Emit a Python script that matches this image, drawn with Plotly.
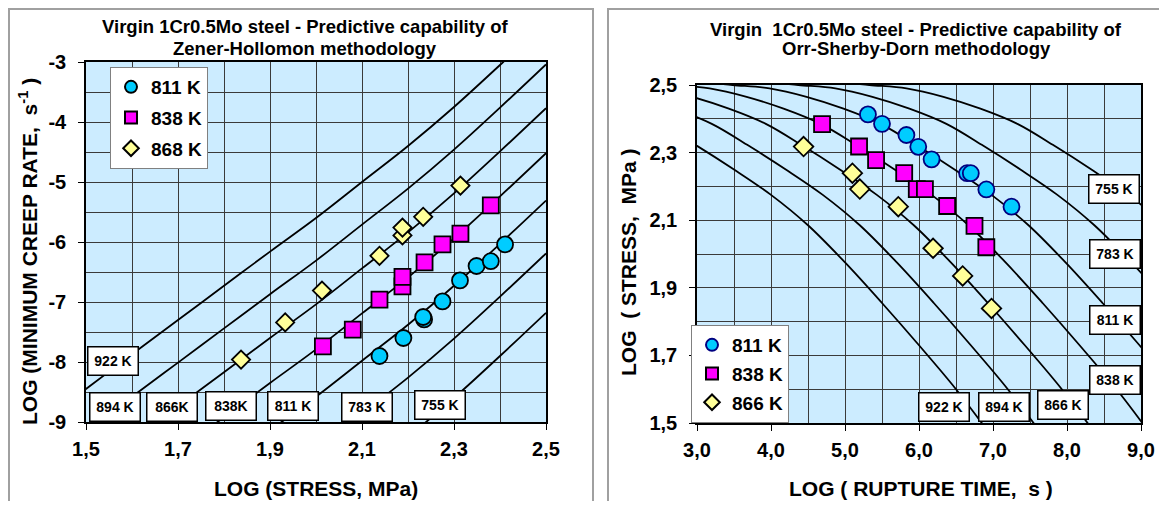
import plotly.graph_objects as go

# page body has an 8px margin: figure is drawn from (8, 8)
OFF = 8
W, H = 1167 - 2 * OFF, 509 - 2 * OFF

def PX(x):
    return (x - OFF) / W

def PY(y):
    return 1 - (y - OFF) / H

# ---------------- Left chart data (Zener-Hollomon) ----------------
zh_stress = [1.4, 1.5, 1.6, 1.7, 1.8, 1.9, 2.0, 2.1, 2.2, 2.3, 2.4, 2.5]
zh_curves = {
    "922 K": [-9.02, -8.45, -7.87, -7.30, -6.73, -6.16, -5.60, -5.00, -4.40, -3.75, -3.05, -2.33],
    "894 K": [-9.73, -9.16, -8.58, -8.01, -7.44, -6.87, -6.31, -5.71, -5.11, -4.46, -3.76, -3.04],
    "866K": [-10.46, -9.89, -9.31, -8.74, -8.17, -7.60, -7.04, -6.44, -5.84, -5.19, -4.49, -3.77],
    "838K": [-11.21, -10.64, -10.06, -9.49, -8.92, -8.35, -7.79, -7.19, -6.59, -5.94, -5.24, -4.52],
    "811 K": [-12.00, -11.43, -10.85, -10.28, -9.71, -9.14, -8.58, -7.98, -7.38, -6.73, -6.03, -5.31],
    "783 K": [-12.88, -12.31, -11.73, -11.16, -10.59, -10.02, -9.46, -8.86, -8.26, -7.61, -6.91, -6.19],
    "755 K": [-13.87, -13.30, -12.72, -12.15, -11.58, -11.01, -10.45, -9.85, -9.25, -8.60, -7.90, -7.18],
}
zh_x811 = [2.138, 2.190, 2.235, 2.233, 2.275, 2.313, 2.349, 2.380, 2.411]
zh_y811 = [-7.90, -7.60, -7.29, -7.25, -6.99, -6.64, -6.40, -6.32, -6.04]
zh_x838 = [2.015, 2.080, 2.138, 2.188, 2.188, 2.236, 2.275, 2.314, 2.380]
zh_y838 = [-7.74, -7.46, -6.96, -6.74, -6.58, -6.34, -6.04, -5.86, -5.39]
zh_x868 = [1.837, 1.933, 2.013, 2.138, 2.188, 2.188, 2.233, 2.314]
zh_y868 = [-7.96, -7.34, -6.81, -6.23, -5.89, -5.76, -5.58, -5.06]

zh_xticks = [1.5, 1.7, 1.9, 2.1, 2.3, 2.5]
zh_xtext = ["1,5", "1,7", "1,9", "2,1", "2,3", "2,5"]
zh_yticks = [-9, -8, -7, -6, -5, -4, -3]
zh_ytext = ["-9", "-8", "-7", "-6", "-5", "-4", "-3"]

zh_labels = [("922 K", 1.559, -7.99), ("894 K", 1.562, -8.745), ("866K", 1.688, -8.745),
             ("838K", 1.815, -8.73), ("811 K", 1.950, -8.73), ("783 K", 2.110, -8.745),
             ("755 K", 2.270, -8.71)]

# ---------------- Right chart data (Orr-Sherby-Dorn) ----------------
osd_stress = [2.515, 2.51, 2.50, 2.49, 2.465, 2.43, 2.385, 2.32, 2.25, 2.175, 2.085, 1.975, 1.855, 1.73, 1.60, 1.455]
osd_curves = {
    "922 K": [-0.5, 0.0, 0.5, 1.0, 1.5, 2.0, 2.5, 3.0, 3.5, 4.0, 4.5, 5.0, 5.5, 6.0, 6.5, 7.0],
    "894 K": [0.2, 0.7, 1.2, 1.7, 2.2, 2.7, 3.2, 3.7, 4.2, 4.7, 5.2, 5.7, 6.2, 6.7, 7.2, 7.7],
    "866 K": [0.93, 1.43, 1.93, 2.43, 2.93, 3.43, 3.93, 4.43, 4.93, 5.43, 5.93, 6.43, 6.93, 7.43, 7.93, 8.43],
    "838 K": [1.67, 2.17, 2.67, 3.17, 3.67, 4.17, 4.67, 5.17, 5.67, 6.17, 6.67, 7.17, 7.67, 8.17, 8.67, 9.17],
    "811 K": [2.48, 2.98, 3.48, 3.98, 4.48, 4.98, 5.48, 5.98, 6.48, 6.98, 7.48, 7.98, 8.48, 8.98, 9.48, 9.98],
    "783 K": [3.37, 3.87, 4.37, 4.87, 5.37, 5.87, 6.37, 6.87, 7.37, 7.87, 8.37, 8.87, 9.37, 9.87, 10.37, 10.87],
    "755 K": [4.33, 4.83, 5.33, 5.83, 6.33, 6.83, 7.33, 7.83, 8.33, 8.83, 9.33, 9.83, 10.33, 10.83, 11.33, 11.83],
}
osd_t811 = [5.31, 5.50, 5.83, 5.99, 6.17, 6.65, 6.70, 6.91, 7.25]
osd_s811 = [2.413, 2.385, 2.352, 2.317, 2.280, 2.239, 2.239, 2.191, 2.140]
osd_t838 = [4.69, 5.19, 5.42, 5.80, 5.97, 6.08, 6.38, 6.75, 6.91]
osd_s838 = [2.384, 2.318, 2.278, 2.239, 2.192, 2.192, 2.142, 2.083, 2.020]
osd_t866 = [4.44, 5.10, 5.20, 5.72, 6.19, 6.59, 6.98]
osd_s866 = [2.318, 2.239, 2.192, 2.140, 2.017, 1.935, 1.839]

osd_xticks = [3, 4, 5, 6, 7, 8, 9]
osd_xtext = ["3,0", "4,0", "5,0", "6,0", "7,0", "8,0", "9,0"]
osd_yticks = [1.5, 1.7, 1.9, 2.1, 2.3, 2.5]
osd_ytext = ["1,5", "1,7", "1,9", "2,1", "2,3", "2,5"]

osd_labels = [("755 K", 8.638, 2.193), ("783 K", 8.649, 2.0), ("811 K", 8.649, 1.804),
              ("838 K", 8.653, 1.628), ("922 K", 6.34, 1.548), ("894 K", 7.155, 1.548),
              ("866 K", 7.943, 1.554)]

FONT = "Liberation Sans, Arial, sans-serif"
CYAN, MAGENTA, YELLOW = "#00CCFF", "#FF00FF", "#FFFF99"

fig = go.Figure()

for name, ys in zh_curves.items():
    fig.add_trace(go.Scatter(x=zh_stress, y=ys, mode="lines", line=dict(color="black", width=1.8, shape="spline"),
                             showlegend=False, hoverinfo="skip", xaxis="x", yaxis="y"))
for name, xs in osd_curves.items():
    fig.add_trace(go.Scatter(x=xs, y=osd_stress, mode="lines", line=dict(color="black", width=1.8, shape="spline"),
                             showlegend=False, hoverinfo="skip", xaxis="x2", yaxis="y2"))

def pts(x, y, name, sym, color, size, lc, ax, ay, leg):
    fig.add_trace(go.Scatter(x=x, y=y, mode="markers", name="<b>" + name + "</b>", legend=leg,
                             legendgroup=leg + name,
                             marker=dict(symbol=sym, color=color, size=size, line=dict(color=lc, width=1.8)),
                             xaxis=ax, yaxis=ay))

pts(zh_x811, zh_y811, "811 K", "circle", CYAN, 16, "black", "x", "y", "legend")
pts(zh_x838, zh_y838, "838 K", "square", MAGENTA, 16, "black", "x", "y", "legend")
pts(zh_x868, zh_y868, "868 K", "diamond", YELLOW, 14, "black", "x", "y", "legend")
pts(osd_t811, osd_s811, "811 K", "circle", CYAN, 16, "#000080", "x2", "y2", "legend2")
pts(osd_t838, osd_s838, "838 K", "square", MAGENTA, 16, "black", "x2", "y2", "legend2")
pts(osd_t866, osd_s866, "866 K", "diamond", YELLOW, 15, "black", "x2", "y2", "legend2")

GRID = "#3a3a3a"
tickfont = dict(family=FONT, size=20, color="black")

def axis(domain, rng, tv, tt, mdt, anchor, standoff):
    return dict(domain=domain, range=rng, tickmode="array", tickvals=tv, ticktext=["<b>" + t + "</b>" for t in tt],
                ticks="outside", ticklen=6, tickcolor="black", tickwidth=1,
                showgrid=True, gridcolor=GRID, gridwidth=1,
                minor=dict(dtick=mdt, tick0=rng[0], showgrid=True, gridcolor=GRID, gridwidth=1, ticks=""),
                showline=True, linecolor="black", linewidth=1.5, mirror=True,
                zeroline=False, tickfont=tickfont, anchor=anchor, automargin=False,
                ticklabelstandoff=standoff)

legfont = dict(family=FONT, size=19, color="black")
fig.update_layout(
    width=W, height=H, margin=dict(l=0, r=0, t=0, b=0, pad=0), template="none",
    paper_bgcolor="white", plot_bgcolor="#CCECFF",
    xaxis=axis([PX(86), PX(546)], [1.5, 2.5], zh_xticks, zh_xtext, 0.1, "y", 2),
    yaxis=axis([PY(422), PY(62)], [-9, -3], zh_yticks, zh_ytext, 0.5, "x", 8),
    xaxis2=axis([PX(697), PX(1141)], [3, 9], osd_xticks, osd_xtext, 0.5, "y2", 2),
    yaxis2=axis([PY(423), PY(85)], [1.5, 2.5], osd_yticks, osd_ytext, 0.1, "x2", 8),
    legend=dict(x=PX(110), y=PY(67), xanchor="left", yanchor="top", bgcolor="white",
                bordercolor="#808080", borderwidth=1, itemsizing="constant", itemwidth=30,
                traceorder="grouped", tracegroupgap=3, font=legfont),
    legend2=dict(x=PX(691), y=PY(325), xanchor="left", yanchor="top", bgcolor="white",
                 bordercolor="#808080", borderwidth=1, itemsizing="constant", itemwidth=30,
                 traceorder="grouped", tracegroupgap=1, font=legfont),
)

shapes = [
    dict(type="rect", xref="paper", yref="paper", x0=1 / W, x1=PX(593), y0=-0.1, y1=1 - 1 / H,
         line=dict(color="#A0A0A0", width=2), fillcolor="rgba(0,0,0,0)", layer="below"),
    dict(type="rect", xref="paper", yref="paper", x0=PX(608), x1=1.1, y0=-0.1, y1=1 - 1 / H,
         line=dict(color="#A0A0A0", width=2), fillcolor="rgba(0,0,0,0)", layer="below"),
]
fig.update_layout(shapes=shapes)

ann = []
def text(t, px, py, size, angle=0):
    ann.append(dict(text="<b>" + t + "</b>", x=PX(px), y=PY(py), xref="paper", yref="paper", showarrow=False,
                    xanchor="center", yanchor="middle", textangle=angle,
                    font=dict(family=FONT, size=size, color="black")))

text("Virgin 1Cr0.5Mo steel - Predictive capability of", 305, 26, 18.5)
text("Zener-Hollomon methodology", 305, 48, 18.5)
text("Virgin\u00a0 1Cr0.5Mo steel - Predictive capability of", 916, 30, 18.5)
text("Orr-Sherby-Dorn methodology", 916, 49, 18.5)
text("LOG (STRESS, MPa)", 316, 488, 21)
text("LOG (MINIMUM CREEP RATE,\u00a0 s<sup>-1</sup> )", 27.5, 251.5, 21, -90)
text("LOG ( RUPTURE TIME,\u00a0 s )", 921, 488, 21)
text("LOG\u00a0 ( STRESS,\u00a0 MPa )", 629, 262, 21, -90)

def box(t, x, y, xr, yr):
    ann.append(dict(text="<b>" + t + "</b>", x=x, y=y, xref=xr, yref=yr, showarrow=False,
                    xanchor="center", yanchor="middle",
                    bgcolor="white", bordercolor="black", borderwidth=1.5, borderpad=2, width=45, height=23,
                    font=dict(family=FONT, size=14, color="black")))

for t, x, y in zh_labels:
    box(t, x, y, "x", "y")
for t, x, y in osd_labels:
    box(t, x, y, "x2", "y2")

fig.update_layout(annotations=ann)
fig.write_html("out.html")
